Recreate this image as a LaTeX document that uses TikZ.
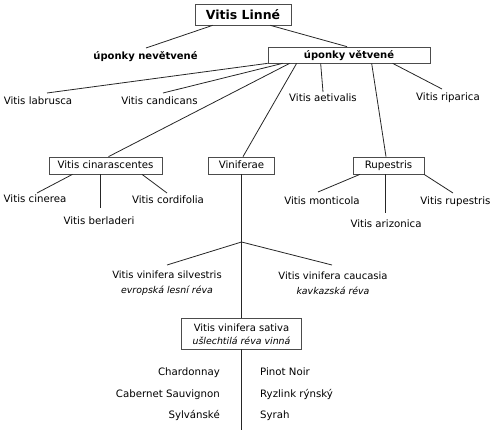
\documentclass[tikz,border=0pt]{standalone}
\usepackage{fontspec}
\setmainfont{DejaVu Sans}
\usetikzlibrary{calc}
\begin{document}
\begin{tikzpicture}[x=1pt,y=-1pt,
  lbl/.style={inner sep=0pt,font=\fontsize{10.2}{12}\selectfont},
  blbl/.style={inner sep=0pt,font=\fontsize{10}{12}\selectfont\bfseries},
  two/.style={inner sep=0pt,align=center,font=\fontsize{10}{15}\selectfont},
  box/.style={draw=black!70,line width=0.7pt,inner sep=0pt},
  conn/.style={line width=0.8pt,black!85}]
\useasboundingbox (0,0) rectangle (493,435);
% top
\node[box,minimum width=96pt,minimum height=21pt,font=\fontsize{12.5}{14}\selectfont\bfseries] (lin) at (243,14.5) {Vitis Linné};
\node[blbl,anchor=base] (nev) at (145.5,60) {úponky nevětvené};
\node[box,minimum width=162pt,minimum height=16pt] (upv) at (349,55) {};
\node[blbl,anchor=base] (upvt) at (349,59) {úponky větvené};
\coordinate (nevend) at (146,48);
\draw[conn] ([xshift=18pt]lin.south west) -- (nevend);
\draw[conn] ([xshift=-21pt]lin.south east) -- ([xshift=-2pt]upv.north);
% row 1 labels
\node[lbl,anchor=base] (lab) at (38,105) {Vitis labrusca};
\node[lbl,anchor=base] (can) at (159.5,105) {Vitis candicans};
\node[lbl,anchor=base] (aet) at (323,102) {Vitis aetivalis};
\node[lbl,anchor=base] (rip) at (448,101) {Vitis riparica};
% group boxes
\node[box,minimum width=113pt,minimum height=17pt] (cin) at (105.5,165.5) {};
\node[lbl,anchor=base] (cint) at (105.5,168.5) {Vitis cinarascentes};
\node[box,minimum width=66pt,minimum height=17pt] (vin) at (241.5,165.5) {};
\node[lbl,anchor=base] (vint) at (241.5,168.5) {Viniferae};
\node[box,minimum width=71pt,minimum height=17pt] (rup) at (388.5,165.5) {};
\node[lbl,anchor=base] (rupt) at (388.5,168.5) {Rupestris};
% connectors from upv
\draw[conn] (upv.south west) -- ($(lab.base)+(9,-12)$);
\draw[conn] ([xshift=15pt]upv.south west) -- ($(can.base)+(3.5,-12)$);
\draw[conn] ([xshift=22pt]upv.south west) -- ([xshift=3pt]cin.north);
\draw[conn] ([xshift=29pt]upv.south west) -- ([xshift=1.5pt]vin.north);
\draw[conn] ([xshift=53pt]upv.south west) -- ($(aet.base)+(0,-10)$);
\draw[conn] ([xshift=104pt]upv.south west) -- ([xshift=-2.5pt]rup.north);
\draw[conn] ([xshift=125pt]upv.south west) -- ($(rip.base)+(-6,-12)$);
% cinarascentes children
\node[lbl,anchor=base] (cine) at (35,203) {Vitis cinerea};
\node[lbl,anchor=base] (berl) at (99,225) {Vitis berladeri};
\node[lbl,anchor=base] (cord) at (168,204) {Vitis cordifolia};
\draw[conn] ([xshift=-33pt]cin.south) -- ($(cine.base)+(2,-10)$);
\draw[conn] ([xshift=-5.5pt]cin.south) -- ($(berl.base)+(1,-17)$);
\draw[conn] ([xshift=36.5pt]cin.south) -- ($(cord.base)+(-1,-11)$);
% rupestris children
\node[lbl,anchor=base] (mont) at (322,205) {Vitis monticola};
\node[lbl,anchor=base] (ariz) at (386,228) {Vitis arizonica};
\node[lbl,anchor=base] (rups) at (455.5,205) {Vitis rupestris};
\draw[conn] ([xshift=-28.5pt]rup.south) -- ($(mont.base)+(-4,-13)$);
\draw[conn] ([xshift=-3.5pt]rup.south) -- ($(ariz.base)+(-1,-15)$);
\draw[conn] ([xshift=35.5pt]rup.south) -- ($(rups.base)+(-2.5,-12)$);
% viniferae
\coordinate (J) at (241.5,242);
\node[two] (silv) at (167,283) {Vitis vinifera silvestris\\{\fontsize{9.4}{12}\selectfont\itshape evropská lesní réva}};
\node[two] (cauc) at (333,283) {Vitis vinifera caucasia\\{\fontsize{9.4}{12}\selectfont\itshape kavkazská réva}};
\node[box,minimum width=120pt,minimum height=31pt] (sat) at (241.5,333.5) {};
\node[inner sep=0pt,align=center,font=\fontsize{10}{13}\selectfont] (satt) at (241.5,334) {Vitis vinifera sativa\\{\fontsize{9.4}{12}\selectfont\itshape ušlechtilá réva vinná}};
\draw[conn] (vin.south) -- (J) -- (sat.north);
\draw[conn] (J) -- ($(silv.center)+(0,-18)$);
\draw[conn] (J) -- ($(cauc.center)+(-1,-18)$);
\coordinate (bot) at (241.5,430);
\draw[conn] (sat.south) -- (bot);
% varieties
\node[lbl,anchor=base east] (char) at (220,376) {Chardonnay};
\node[lbl,anchor=base east] (cab) at (220,398) {Cabernet Sauvignon};
\node[lbl,anchor=base east] (syl) at (220,419) {Sylvánské};
\node[lbl,anchor=base west] (pin) at (260,376) {Pinot Noir};
\node[lbl,anchor=base west] (ryz) at (260,398) {Ryzlink rýnský};
\node[lbl,anchor=base west] (syr) at (260,419) {Syrah};
\end{tikzpicture}
\end{document}
